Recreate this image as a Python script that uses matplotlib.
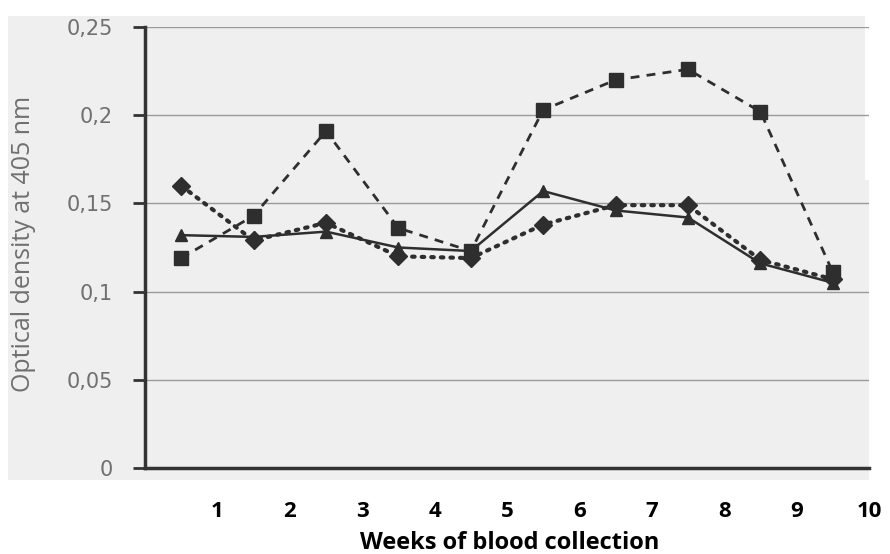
import matplotlib.pyplot as plt
from matplotlib.patches import Rectangle

# week categories and optical density values
weeks = ['1', '2', '3', '4', '5', '6', '7', '8', '9', '10']
od_squares = [0.119, 0.143, 0.191, 0.136, 0.123, 0.203, 0.220, 0.226, 0.202, 0.111]
od_triangles = [0.132, 0.131, 0.134, 0.125, 0.123, 0.157, 0.146, 0.142, 0.116, 0.105]
od_diamonds = [0.160, 0.129, 0.139, 0.120, 0.119, 0.138, 0.149, 0.149, 0.118, 0.107]
y_ticks = [0, 0.05, 0.1, 0.15, 0.2, 0.25]
y_tick_labels = ['0', '0,05', '0,1', '0,15', '0,2', '0,25']

W, H = 890, 554
fig = plt.figure(figsize=(W / 100, H / 100), dpi=100)
fig.patch.set_facecolor('white')

# grey scanned background
def px_rect(x0, y0, x1, y1, color):
    fig.patches.append(Rectangle((x0 / W, 1 - y1 / H), (x1 - x0) / W, (y1 - y0) / H,
                                 transform=fig.transFigure, facecolor=color,
                                 edgecolor='none', zorder=0))

px_rect(8, 16, 865, 180, '#efefef')
px_rect(8, 180, 869, 480, '#efefef')

ax = fig.add_axes([145 / W, 1 - 468 / H, (869 - 145) / W, 441 / H])
ax.set_facecolor('none')
ax.set_zorder(2)

x = [i + 0.5 for i in range(len(weeks))]
ink = '#2e2e2e'
ax.plot(x, od_squares, color=ink, lw=2, ls=(0, (3.2, 2.6)), marker='s', ms=10, zorder=3,
        clip_on=False)
ax.plot(x, od_triangles, color=ink, lw=1.8, ls='-', marker='^', ms=9, zorder=4, clip_on=False)
ax.plot(x, od_diamonds, color=ink, lw=3, ls=(0, (0.6, 1.7)), dash_capstyle='round',
        marker='D', ms=9, zorder=3, clip_on=False)

ax.set_xlim(0, 10)
ax.set_ylim(0, 0.25)

ax.set_yticks(y_ticks)
ax.set_yticklabels(y_tick_labels, fontsize=15, color='#707070', family='DejaVu Sans')
ax.tick_params(axis='y', length=9, width=2, color='#333333', pad=14)
ax.grid(axis='y', color='#9a9a9a', lw=1)
ax.set_axisbelow(True)

# labels sit on the tick marks, tick marks only at 1..9
ax.set_xticks(range(1, 11))
ax.set_xticklabels(weeks, fontsize=16, fontweight='bold', color='black', family='Open Sans')
ax.tick_params(axis='x', length=0, pad=24)
ax.set_xticks(range(1, 10), minor=True)
ax.tick_params(axis='x', which='minor', length=7, width=2, color='#333333')

for side in ['top', 'right']:
    ax.spines[side].set_visible(False)
ax.spines['left'].set_linewidth(2.5)
ax.spines['left'].set_color('#333333')
ax.spines['bottom'].set_linewidth(2.5)
ax.spines['bottom'].set_color('#333333')

fig.text(24 / W, 1 - 244 / H, 'Optical density at 405 nm', rotation=90, ha='center',
         va='center', fontsize=18, color='#707070', family='Open Sans')
fig.text(510 / W, 1 - 543 / H, 'Weeks of blood collection', ha='center', va='center',
         fontsize=17, fontweight='bold', family='Open Sans')

fig.savefig('out.png', dpi=100)
